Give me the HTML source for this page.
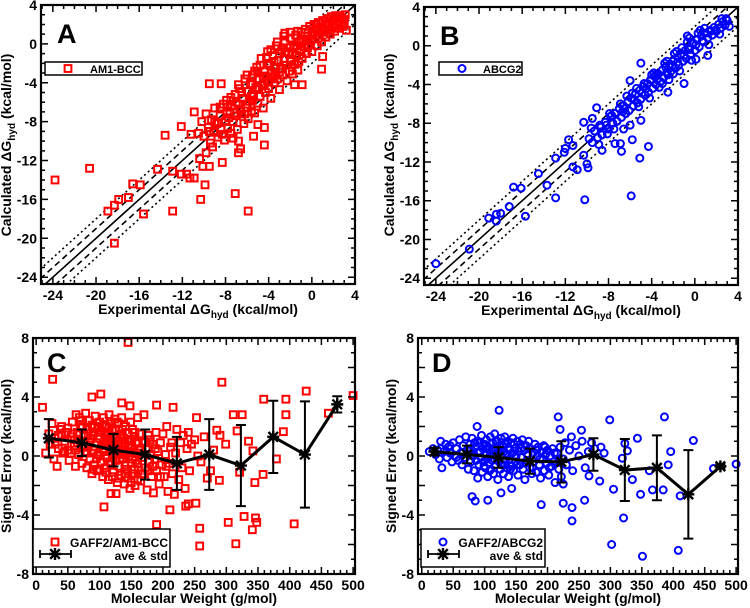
<!DOCTYPE html>
<html><head><meta charset="utf-8"><style>
html,body{margin:0;padding:0;background:#fff;}
svg{display:block;font-family:"Liberation Sans",Arial,sans-serif;font-weight:bold;}
</style></head><body>
<svg id="fig" width="750" height="608" viewBox="0 0 750 608" xmlns="http://www.w3.org/2000/svg"></svg>
<script>
// ---------- data ----------
const aPts = [[-23.8,-14],[-20.6,-12.8],[-18.9,-17.2],[-18.3,-16.6],[-17.9,-16],[-17,-15.8],[-16.6,-14.4],[-15.9,-14.5],[-15.6,-17.5],[-18.3,-20.5],[-14.3,-12.9],[-13.6,-9.4],[-12.9,-13.1],[-12.9,-17.2],[-12.1,-13.4],[-11.6,-13.4],[-11.3,-13.8],[-10.9,-13.8],[-12.1,-8.5],[-11.2,-9.3],[-10.9,-7],[-10.4,-11.8],[-10.3,-16],[-10.1,-12.6],[-9.9,-14.5],[-9.5,-12.6],[-9.5,-4.1],[-8.4,-4.1],[-8.3,-12.2],[-9.8,-11.2],[-9.2,-10.6],[-6.8,-11.2],[-6.6,-10.8],[-6.8,-10],[-7.1,-15.4],[-5.9,-17.2],[-5.4,-9.5],[-5,-8.3],[-4.4,-8.6],[-4.4,-10.4],[-2.5,1.1],[-0.9,-4.2],[-1.6,-4.2],[0.9,-2.6],[1,-1.3],[3.2,1.4],
[-10.2,-8],[-10,-9.5],[-9.8,-7.2],[-9.6,-8.6],[-9.4,-10.2],[-9.3,-7.8],[-9.1,-9.1],[-9,-6.6],[-8.8,-8.2],[-8.7,-9.6],[-8.5,-7.4],[-8.4,-8.8],[-8.2,-6.2],[-8.1,-9.9],[-8,-7.9],[-7.9,-5.8],[-7.8,-8.7],[-7.6,-7],[-7.5,-9.2],[-7.4,-6.3],[-7.3,-8],[-7.1,-5.2],[-7,-7.4],[-6.9,-8.8],[-6.8,-6.2],[-6.7,-4.6],[-6.5,-7.2],[-6.4,-5.6],[-6.3,-8.2],[-6.2,-3.6],[-6.1,-6.6],[-6,-4.9],[-5.9,-7.7],[-5.8,-5.9],[-5.7,-4.1],[-5.6,-6.9],[-5.5,-3.2],[-5.4,-5.2],[-5.3,-7.1],[-5.2,-4.5],[-5.1,-2.4],[-5,-6.1],[-4.9,-3.6],[-4.8,-5.4],[-4.7,-1.5],[-4.6,-4.3],[-4.5,-6.6],[-4.4,-2.8],[-4.3,-5],[-4.2,-3.4],[-4.1,-0.8],[-4,-4.6],[-3.9,-2.2],[-3.8,-5.6],[-3.7,-3],[-3.6,-1.2],[-3.5,-4],[-3.4,-2.5],[-3.3,-0.2],[-3.2,-3.6],[-3.1,-1.7],[-3,-4.7],[-2.9,-2.6],[-2.8,-0.6],[-2.7,-3.2],[-2.6,-1.5],[-2.5,0.3],[-2.4,-2.2],[-2.3,-3.8],[-2.2,-0.9],[-2.1,-2.8],[-2,0.6],[-1.9,-1.6],[-1.8,-3.1],[-1.7,-0.3],[-1.6,-2.1],[-1.5,0.9],[-1.4,-1.2],[-1.3,-2.7],[-1.2,0.2],[-1.1,-0.6],[-1,1.2],[-0.9,-1.5],[-0.8,0.5],[-0.7,-0.3],[-0.6,1.5],[-0.5,-1],[-0.4,0.8],[-0.3,-0.1],[-0.2,1.8],[-0.1,0.3],[0,-0.8],[0.1,1.2],[0.2,2],[0.3,0.5],[0.4,1.5],[0.5,-0.2],[0.6,2.2],[0.7,0.9],[0.8,1.7],[0.9,0.2],[1,2.4],[1.1,1.2],[1.2,2],[1.3,0.7],[1.4,2.6],[1.5,1.5],[1.6,2.2],[1.7,1],[1.8,2.8],[1.9,1.8],[2,2.4],[2.1,1.3],[2.2,2.9],[2.3,2],[2.4,2.6],[2.5,1.6],[2.6,2.9],[2.7,2.2],[2.8,2.7],[2.9,1.8],[3,2.5],[3.1,3],[-5.5,-5.8],[-6.6,-6.8],[-4,-3.9],[-3,-2.9],[-7.7,-7.6],[-4.4,-4.1],[-3.6,-3.4],[-2,-1.8],[-1,-0.7],[-5,-4.7],
[-7.5,-5.5],[-7,-6],[-6.5,-5],[-6,-6.2],[-5.5,-4.2],[-5,-3],[-4.5,-3.3],[-4,-2],[-3.5,-1.8],[-3,-1],[-2.5,-0.8],[-2,-0.4],[-1.5,-0.2],[-1,0.3],[-0.5,0.4],[0,0.9],[0.5,1.4],[1.5,2],[-6.8,-4.2],[-6,-3.2],[-5.3,-2.8],[-4.8,-2.2],[-4.2,-1.4],[-3.8,-0.6],[-3.2,0.2],[-2.6,0.8],[-2,1.2],[-1.3,1.3],[-8.5,-6.5],[-9,-8],[-7.8,-6.5],[-7.2,-7.1],[-6.2,-7.2],[-5.6,-5.4],[-4.9,-4.6],[-4.1,-3.8],[-3.4,-3.1],[-2.7,-2.5],[-1.8,-1],[-1.2,-1.8],[-0.4,-0.4],[0.6,0.6],[1.2,1.5],[2,1.9],[2.7,2.6],[3,2],[-9.5,-9],[-8.3,-9.3],[-10.5,-9.2],[-7.3,-9.7]];
const bPts = [[-24,-22.5],[-20.9,-21],[-19.1,-17.8],[-18.4,-17.4],[-18.4,-18.1],[-18,-17.3],[-17.2,-16.6],[-16.8,-14.6],[-16.1,-14.7],[-15.7,-17.6],[-14.5,-13.2],[-13.7,-14.4],[-12.9,-15.7],[-12.9,-11.6],[-12.1,-11],[-12,-10.6],[-11.7,-9.7],[-11.3,-10.3],[-11.3,-12.5],[-10.9,-12.8],[-10.3,-11.3],[-10.2,-15.9],[-10,-12.2],[-9.9,-12.6],[-10.3,-7.9],[-9.5,-7.5],[-9.1,-6.4],[-8.6,-10.8],[-8.1,-9.1],[-7.4,-10.1],[-6.9,-10.1],[-6.8,-10.9],[-6.6,-8.6],[-6,-8.2],[-5.8,-9.7],[-5.9,-15.5],[-5.1,-11.6],[-5,-7.7],[-5,-1.8],[-4.3,-10.4],[-2.5,-4.8],[-1,-3.9],[-0.7,1],[0.1,-1.4],[1.2,-1],
[-9.8,-9.6],[-9.5,-10],[-9.3,-8.8],[-9,-9.5],[-8.8,-8.2],[-8.6,-9.2],[-8.3,-7.9],[-8,-8.6],[-7.8,-7.3],[-7.6,-8],[-7.4,-7],[-7.2,-7.8],[-7,-6.5],[-6.8,-7.4],[-6.6,-6.2],[-6.4,-7],[-6.2,-5.8],[-6.1,-6.7],[-6,-3.6],[-5.9,-5.4],[-5.7,-6.2],[-5.5,-5],[-5.3,-5.9],[-5.1,-4.6],[-5,-5.5],[-4.8,-4.2],[-4.6,-5.1],[-4.4,-3.9],[-4.3,-4.8],[-4.1,-3.5],[-3.9,-4.4],[-3.7,-3.2],[-3.6,-4],[-3.4,-2.9],[-3.2,-3.7],[-3,-2.5],[-2.9,-3.3],[-2.7,-2.2],[-2.5,-3],[-2.3,-1.9],[-2.2,-2.6],[-2,-1.6],[-1.8,-2.3],[-1.6,-1.2],[-1.5,-2],[-1.3,-0.9],[-1.1,-1.6],[-0.9,-0.5],[-0.8,-1.3],[-0.6,-0.2],[-0.4,-0.9],[-0.2,0.3],[0,-0.5],[0.2,0.6],[0.4,-0.1],[0.6,1],[0.8,0.4],[1,1.3],[1.2,0.8],[1.4,1.6],[1.6,1.1],[1.8,1.9],[2,1.5],[2.2,2.2],[2.4,1.8],[2.6,2.5],[2.8,2.1],[3,2.6],[3.2,2],[-7.9,-7],[-6.9,-6],[-5.8,-4.9],[-4.7,-3.9],[-3.8,-2.8],[-2.8,-1.8],[-1.9,-0.8],[-0.7,0.4],[0.3,1.3],[-9.6,-8.5],[-8.9,-10.2],[-7.5,-8.6],[-6.3,-5.2],[-5.2,-6.3],[-4.2,-5.4],[-3.3,-4.3],[-2.4,-3.5],[-1.4,-2.6],[-0.3,-1.5],[1.3,0.1],[2.3,1.2],[-4.9,-4.9],[-3.5,-3.5],[-2.1,-2.1],[-1,-1],[0.1,0.1],[1.5,1.5],[-6.5,-6.5],[-8.2,-8.2],[-5.4,-4.4],[-4,-3],[-2.6,-1.6],[-1.2,-0.2],[0.9,1.8],[2.5,2.8],[-3,-3.9],[-2,-2.9],[-1.7,-0.6],[-0.5,0.8],[0.5,1.6],
[-8.7,-8.4],[-7.7,-7.2],[-6.7,-6.8],[-5.6,-5.6],[-4.5,-4.4],[-3.6,-3.0],[-2.6,-2.7],[-1.6,-1.7],[-0.5,-0.4],[0.7,0.5],[1.9,1.6],[2.9,2.8]];
const cPts = [[145,7.7],[26,5.2],[293,5],[10,3.3],[88,4],[102,4.2],[135,3.6],[148,3.4],[190,3.45],[216,3.3],[359,3.85],[394,3.85],[426,4.4],[500,4.1],[461,2.9],[107,-3.45],[118,-2.55],[126,-2.55],[190,-4.65],[211,-3.65],[236,-3.4],[240,-3.25],[252,-3.2],[258,-4.9],[258,-6.1],[303,-4.5],[315,-5.95],[328,-4.1],[346,-4.2],[341,-5],[348,-4.5],[407,-4.6],[311,2.8],[325,2.8],[358,-1.25],[379,-0.2],[390,1.65],[394,2.8],[345,-1.8],[321,-1.1],[317,1.7],[335,1.0],[253,2.6],[285,1.75],[299,0.8],[275,-1],[289,-1.65],[342,0.35],
[15,0.2],[20,1.5],[22,0.8],[25,2.2],[28,-0.2],[30,1.2],[33,-0.7],[35,0.5],[38,1.8],[40,2.0],[42,0.2],[45,1.0],[47,1.6],[50,0.4],[52,-0.3],[55,1.3],[57,2.3],[60,0.7],[62,-0.7],[63,2.8],[65,1.6],[67,0.1],[68,2.6],[70,1.0],[72,-0.5],[73,2.0],[75,1.4],[77,0.3],[78,2.9],[80,-0.8],[80,1.8],[82,0.6],[84,2.4],[85,-0.2],[86,1.2],[88,-1.2],[88,2.1],[90,0.4],[91,1.6],[92,-0.6],[93,2.7],[95,0.9],[96,-1.0],[97,1.9],[98,0.1],[100,2.3],[100,1.2],[102,-0.4],[103,0.7],[104,1.7],[105,-1.4],[106,2.6],[107,0.3],[108,1.4],[109,-0.8],[110,2.0],[111,0.9],[112,-0.1],[113,1.6],[114,-1.6],[115,2.8],[116,0.5],[117,1.1],[118,-0.6],[119,2.2],[120,0.0],[121,1.3],[122,-1.1],[123,0.8],[124,2.5],[125,-0.3],[126,1.7],[127,0.4],[128,-1.8],[129,1.0],[130,2.2],[131,-0.7],[132,0.2],[133,1.5],[134,-1.3],[135,2.6],[136,0.6],[137,-0.2],[138,1.2],[139,-1.9],[140,0.9],[141,2.0],[142,-0.9],[143,0.3],[144,1.6],[145,-1.5],[146,0.0],[147,1.1],[148,-2.2],[149,2.3],[150,-0.5],[151,0.7],[152,1.8],[153,-1.2],[154,0.2],[155,1.3],[156,-2.0],[157,-0.3],[158,0.9],[160,2.6],[161,-1.0],[162,0.4],[163,1.5],[165,-1.7],[166,-0.1],[168,1.0],[170,2.8],[172,-0.8],[174,0.5],[175,-2.3],[177,1.4],[179,-0.4],[180,0.1],[182,-1.4],[184,0.8],[185,-2.5],[187,-0.2],[189,1.6],[190,-1.0],[192,0.3],[194,-1.9],[196,0.9],[198,-0.6],[200,1.5],[202,-1.4],[204,0.1],[206,2.0],[208,-2.4],[210,-0.5],[212,0.6],[215,-1.2],[218,-2.6],[220,0.2],[222,1.8],[225,-1.6],[228,0.9],[230,-0.8],[232,1.4],[235,-2.2],[238,0.5],[240,1.6],[242,-1.0],[245,0.8],[250,1.1],[255,0.0],[260,-0.4],[265,1.3],[270,-1.5],[280,0.4],[290,1.4],[60,1.1],[70,1.9],[90,1.4],[110,1.5],[120,0.6],[130,0.8],[140,0.1],[150,1.0],[160,0.9],[105,0.5],[95,-0.2],[85,0.9],[75,0.6],[65,0.9],[55,0.2],[45,0.3],[35,1.4],[115,1.9],[125,1.2],[135,1.4],[145,0.6],[155,-0.9],[165,0.5],
[30,0.8],[40,1.4],[50,1.9],[58,1.5],[62,0.4],[70,2.4],[76,1.0],[82,1.5],[87,0.2],[92,2.0],[98,1.6],[101,0.0],[104,2.0],[108,0.8],[112,1.2],[116,-0.4],[120,1.8],[124,0.1],[128,2.3],[132,-0.2],[136,1.8],[140,-0.6],[144,1.1],[148,0.3],[152,-0.2],[156,1.6],[160,-0.5],[164,0.2],[168,-1.2],[172,0.9],[176,-1.0],[180,1.1],[184,-0.7],[188,0.5],[196,-1.4],[205,-0.7],[214,0.9],[100,-0.9],[110,-1.1],[120,-1.4],[130,-1.5],[140,-1.2],[150,-1.8],[160,-1.6],[90,-0.9],[80,0.2]];
const dPts = [[123,3.1],[88,2],[217,2.65],[220,1.8],[299,2.45],[386,2.65],[254,1.75],[238,1.3],[343,1.2],[432,1.05],[80,-2.75],[85,-3.05],[105,-3],[126,-2.5],[143,-2.2],[190,-3.3],[225,-3.2],[239,-3.5],[239,-4.4],[259,-3],[305,-2.25],[321,-4.2],[302,-6],[351,-6.8],[348,-2.6],[367,-2.3],[384,-2.3],[408,-6.4],[411,-2.7],[396,0.3],[392,-0.6],[464,-0.85],[500,-0.55],[335,-1.6],[319,-0.15],[323,0.85],[362,-1.0],[327,0.35],[283,-1.7],[266,-1.35],
[12,0.3],[18,0.5],[22,0.1],[25,0.4],[28,-0.2],[30,1.0],[32,-0.8],[35,0.3],[38,0.8],[40,-0.1],[42,0.6],[45,0.2],[48,-0.4],[50,0.9],[52,0.0],[55,0.5],[58,-0.3],[60,1.1],[62,0.2],[64,-0.6],[66,0.7],[68,-0.1],[70,1.3],[72,0.4],[74,-0.9],[75,0.1],[77,0.8],[78,-0.4],[80,1.2],[82,0.0],[83,-1.0],[85,0.6],[86,-0.3],[88,1.0],[89,-1.5],[90,0.3],[91,-0.6],[92,0.9],[94,-0.1],[95,1.4],[96,-1.1],[97,0.5],[98,-0.4],[100,0.8],[101,-0.8],[102,0.2],[103,1.1],[104,-0.2],[105,-1.4],[106,0.6],[107,-0.5],[108,0.0],[109,1.3],[110,-0.9],[111,0.4],[112,-0.3],[113,0.9],[114,-1.2],[115,0.1],[116,1.5],[117,-0.6],[118,0.5],[119,-0.1],[120,1.0],[121,-1.6],[122,0.2],[123,-0.4],[124,0.7],[125,-0.9],[126,1.2],[127,0.0],[128,-0.6],[129,0.6],[130,-1.2],[131,0.3],[132,1.3],[133,-0.3],[134,0.8],[135,-0.8],[136,0.1],[137,1.0],[138,-1.4],[139,0.4],[140,-0.2],[142,0.9],[143,-0.7],[144,0.2],[145,1.2],[146,-1.0],[148,0.5],[149,-0.4],[150,0.0],[152,1.0],[153,-1.3],[154,0.3],[156,-0.6],[157,0.8],[158,-0.1],[160,1.1],[161,-0.9],[163,0.4],[164,-1.6],[166,0.7],[167,-0.3],[169,0.1],[170,1.0],[172,-0.8],[173,0.5],[175,-1.2],[177,0.2],[178,-0.4],[180,0.8],[182,-1.1],[184,0.0],[185,0.6],[187,-0.6],[189,-1.5],[190,0.3],[192,-0.2],[194,0.7],[195,-1.0],[197,0.1],[199,-0.5],[200,0.4],[202,-1.3],[204,0.0],[206,-0.7],[208,0.5],[210,-0.4],[212,-1.8],[215,0.2],[218,-0.9],[220,0.6],[222,-1.4],[225,-0.2],[228,0.9],[230,-0.6],[235,0.4],[240,-1.0],[245,0.7],[250,0.0],[255,1.0],[260,-0.8],[265,0.3],[270,0.9],[275,0.5],[285,0.6],[290,0.2],[225,-1.9],
[30,0.5],[45,0.7],[55,-0.1],[65,0.2],[78,0.5],[84,0.9],[93,0.3],[99,-0.7],[103,0.5],[108,-1.0],[114,0.5],[118,1.0],[126,0.4],[131,-0.6],[137,0.5],[141,-0.9],[147,0.8],[151,-0.6],[158,0.5],[165,-0.5],[171,0.5],[176,-0.8],[183,0.4],[188,-0.2],[196,0.6],[203,-0.8],[211,0.2],[218,-0.3]];
const binMW = [20,72,122,172,222,273,323,374,424,475];
const cMean = [1.2,0.9,0.4,0.1,-0.5,0.1,-0.65,1.3,0.1,3.5];
const cStd = [1.3,0.9,1.1,1.7,1.8,2.4,2.75,2.45,3.6,0.55];
const dMean = [0.3,0.1,-0.1,-0.35,-0.4,0.1,-0.95,-0.8,-2.6,-0.7];
const dStd = [0.25,0.6,0.7,0.85,1.4,1.1,2.1,2.2,3.0,0.15];
const dgTicks = [-24,-20,-16,-12,-8,-4,0,4];
const mwTicks = [0,50,100,150,200,250,300,350,400,450,500];
const errTicks = [-8,-4,0,4,8];

// ---------- helpers ----------
const NS = "http://www.w3.org/2000/svg";
const svg = document.getElementById('fig');
function mk(tag, attrs, parent){
  const e = document.createElementNS(NS, tag);
  for (const k in attrs) e.setAttribute(k, attrs[k]);
  (parent||svg).appendChild(e);
  return e;
}
function lin(d0,d1,r0,r1){ return v => r0 + (v-d0)/(d1-d0)*(r1-r0); }

function drawFrame(g, P, xMaj, xMin, yMaj, yMin, xLabels, yLabels){
  const xs = lin(P.x0,P.x1,P.L,P.R), ys = lin(P.y0,P.y1,P.B,P.T);
  let d = "";
  for (let v = Math.ceil(P.x0/xMin)*xMin; v <= P.x1+1e-9; v += xMin){
    const major = Math.abs(v/xMaj - Math.round(v/xMaj)) < 1e-6;
    const len = major ? 7 : 4, x = xs(v);
    d += `M${x},${P.B}v${-len}M${x},${P.T}v${len}`;
  }
  for (let v = Math.ceil(P.y0/yMin)*yMin; v <= P.y1+1e-9; v += yMin){
    const major = Math.abs(v/yMaj - Math.round(v/yMaj)) < 1e-6;
    const len = major ? 7 : 4, y = ys(v);
    d += `M${P.L},${y}h${len}M${P.R},${y}h${-len}`;
  }
  const t = mk('path',{d:d,stroke:'#000','stroke-width':1.5,fill:'none'},g);
  
  
  xLabels.forEach(v=>{
    const tx = mk('text',{x:xs(v),y:P.B+16,'font-size':14,'text-anchor':'middle'},g);
    tx.textContent = v;
    
    
  });
  yLabels.forEach(v=>{
    const tx = mk('text',{x:P.L-4,y:ys(v)+5,'font-size':14,'text-anchor':'end'},g);
    tx.textContent = v;
    
    
  });
  const f = mk('rect',{x:P.L,y:P.T,width:P.R-P.L,height:P.B-P.T,fill:'none',stroke:'#000','stroke-width':2.2},g);
  
  
  return {xs, ys};
}
function square(g,x,y){
  const e = mk('rect',{x:x-3.4,y:y-3.4,width:6.8,height:6.8,fill:'none',stroke:'#ff0000','stroke-width':2},g);
  
  
}
function circle(g,x,y){
  const e = mk('circle',{cx:x,cy:y,r:3.5,fill:'none',stroke:'#0000ff','stroke-width':2},g);
  
  
}
function star(g,x,y){
  const s=6;
  const e = mk('path',{d:`M${x-s},${y}h${2*s}M${x},${y-s}v${2*s}M${x-s*0.8},${y-s*0.8}l${1.6*s},${1.6*s}M${x-s*0.8},${y+s*0.8}l${1.6*s},${-1.6*s}`,stroke:'#000','stroke-width':2.4},g);
  
  
}
function ylabel(g, cx, cy, parts){
  const t = mk('text',{transform:`translate(${cx},${cy}) rotate(-90)`,'font-size':14,'text-anchor':'middle'},g);
  
  
  parts(t);
}
function dgParts(prefix){
  return t=>{
    const a=mk('tspan',{},t); a.textContent = prefix+' \u0394G';
    const b=mk('tspan',{dy:4,'font-size':10},t); b.textContent='hyd';
    const c=mk('tspan',{dy:-4},t); c.textContent=' (kcal/mol)';
  };
}
function xtitleDG(g,cx,y){
  const t = mk('text',{x:cx,y:y,'font-size':14,'text-anchor':'middle'},g);
  
  
  dgParts('Experimental')(t);
}
function panelLetter(g,x,y,s){
  const t = mk('text',{x:x,y:y,'font-size':27},g);
  t.textContent = s;
  
  
}

// ---------- scatter panels A,B ----------
function scatterPanel(P, pts, marker, letter, legendText, LG){
  const g = mk('g',{});
  
  
  const clipId = 'clip'+letter;
  const cp = mk('clipPath',{id:clipId},g);
  mk('rect',{x:P.L,y:P.T,width:P.R-P.L,height:P.B-P.T},cp);
  const xs = lin(P.x0,P.x1,P.L,P.R), ys = lin(P.y0,P.y1,P.B,P.T);
  const lg = mk('g',{'clip-path':`url(#${clipId})`},g);
  [[0,'none'],[1,'6,4'],[-1,'6,4'],[2,'2,3'],[-2,'2,3']].forEach(([off,da])=>{
    const l = mk('line',{x1:xs(-30),y1:ys(-30+off),x2:xs(10),y2:ys(10+off),stroke:'#000','stroke-width':1.6,'stroke-dasharray':da},lg);
    
    
  });
  pts.forEach(p=>marker(g,xs(p[0]),ys(p[1])));
  drawFrame(g,P,4,1,4,1,dgTicks,dgTicks);
  const lb = mk('rect',{x:LG.x,y:LG.y,width:LG.w,height:13,fill:'#fff',stroke:'#000','stroke-width':1.5},g);
  
  
  marker(g,LG.mx,LG.y+6.5);
  const lt = mk('text',{x:LG.tx,y:LG.y+11,'font-size':11},g);
  lt.textContent = legendText;
  
  
  panelLetter(g,P.L+16,P.T+38,letter);
  ylabel(g,P.L-30,145,dgParts('Calculated'));
  xtitleDG(g,(P.L+P.R)/2,P.B+30);
}
scatterPanel({L:41,R:355,T:5,B:284,x0:-25.1,x1:4,y0:-24.7,y1:4},aPts,square,'A','AM1-BCC',{x:45,y:62,w:97,mx:68,tx:90});
scatterPanel({L:424,R:738,T:7,B:285,x0:-25.1,x1:4,y0:-24.7,y1:4},bPts,circle,'B','ABCG2',{x:439,y:62,w:83,mx:462,tx:483});

// ---------- error panels C,D ----------
function errPanel(P, pts, marker, letter, mean, std, legendText, LG){
  const g = mk('g',{});
  
  
  const xs = lin(P.x0,P.x1,P.L,P.R), ys = lin(P.y0,P.y1,P.B,P.T);
  pts.forEach(p=>marker(g,xs(p[0]),ys(p[1])));
  let d = "";
  binMW.forEach((m,i)=>{ d += (i?'L':'M')+xs(m)+','+ys(mean[i]); });
  const ml = mk('path',{d:d,fill:'none',stroke:'#000','stroke-width':3},g);
  
  
  binMW.forEach((m,i)=>{
    const x = xs(m), y1 = ys(mean[i]+std[i]), y2 = ys(mean[i]-std[i]);
    const e = mk('path',{d:`M${x},${y1}V${y2}M${x-5},${y1}h10M${x-5},${y2}h10`,stroke:'#000','stroke-width':2,fill:'none'},g);
    
    
    star(g,x,ys(mean[i]));
  });
  drawFrame(g,P,50,10,2,1,mwTicks,errTicks);
  const lb = mk('rect',{x:LG.x,y:529,width:LG.w,height:38,fill:'#fff',stroke:'#000','stroke-width':1.5},g);
  
  
  marker(g,LG.mx,542);
  const eb = mk('path',{d:`M${LG.mx-15},554h31M${LG.mx-15},550v8M${LG.mx+16},550v8`,stroke:'#000','stroke-width':1.8},g);
  
  
  star(g,LG.mx,554);
  const t1 = mk('text',{x:LG.x+LG.w-2,y:547,'font-size':12,'text-anchor':'end'},g);
  t1.textContent = legendText;
  
  
  const t2 = mk('text',{x:LG.x+LG.w-2,y:560,'font-size':12,'text-anchor':'end'},g);
  t2.textContent = 'ave & std';
  
  
  panelLetter(g,P.L+14,P.T+34,letter);
  ylabel(g,P.L-22,456,t=>{t.textContent='Signed Error (kcal/mol)';});
  const xt = mk('text',{x:(P.L+P.R)/2,y:P.B+29,'font-size':14,'text-anchor':'middle'},g);
  xt.textContent = 'Molecular Weight (g/mol)';
  
  
}
errPanel({L:33,R:355,T:338,B:574,x0:-5,x1:503,y0:-8,y1:8},cPts,square,'C',cMean,cStd,'GAFF2/AM1-BCC',{x:33,w:137,mx:55});
errPanel({L:418,R:738,T:338,B:574,x0:-6,x1:503,y0:-8,y1:8},dPts,circle,'D',dMean,dStd,'GAFF2/ABCG2',{x:421,w:124,mx:443});
</script>
</body></html>
